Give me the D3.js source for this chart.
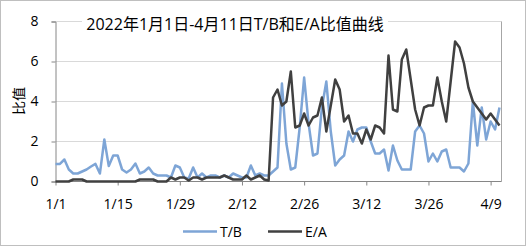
<!DOCTYPE html>
<html><head><meta charset="utf-8">
<script src="https://cdn.jsdelivr.net/npm/d3@7/dist/d3.min.js"></script>
<style>
body{margin:0;background:#fff;}
text{font-family:"Open Sans","Noto Sans CJK SC",sans-serif;fill:#000;}
</style></head>
<body><svg id="c" width="526" height="246"></svg>
<script>
const title = "2022年1月1日-4月11日T/B和E/A比值曲线";
const startDate = "2022-01-01";
const tickLabels = ["1/1","1/15","1/29","2/12","2/26","3/12","3/26","4/9"];
const yTicks = [0,2,4,6,8];
const seriesNames = ["T/B","E/A"];
const tb = [0.88,0.88,1.1,0.6,0.4,0.4,0.5,0.6,0.75,0.88,0.4,2.1,0.77,1.3,1.3,0.6,0.45,0.6,0.9,0.4,
0.5,0.7,0.4,0.3,0.3,0.3,0.2,0.8,0.7,0.2,0.15,0.7,0.2,0.4,0.2,0.3,0.3,0.2,0.3,0.2,
0.4,0.3,0.2,0.2,0.8,0.3,0.4,0.3,0.3,0.5,0.7,4.9,1.9,0.6,0.7,2.7,5.2,2.9,1.3,1.4,
3.7,5.0,2.5,0.8,1.1,1.3,2.5,2.0,2.6,2.7,2.7,2.0,1.4,1.4,1.6,0.55,1.8,1.05,0.6,0.6,
0.6,2.5,2.8,2.4,1.0,1.4,1.0,1.5,1.6,0.7,0.7,0.7,0.5,0.9,4.0,1.8,3.7,2.1,3.0,2.6,3.7];
const ea = [0,0,0,0,0.1,0.1,0.1,0,0,0,0,0,0,0,0,0,0,0,0,0.1,
0.1,0.1,0.1,0,0,0,0.2,0.1,0.2,0.2,0.05,0.2,0.2,0.1,0.2,0.2,0.2,0.2,0.3,0.2,
0.1,0.1,0.1,0.3,0.1,0.2,0.3,0.1,0.05,4.2,4.6,3.8,4.0,5.5,2.7,2.8,3.4,2.8,3.2,3.3,
4.2,2.5,3.8,5.1,4.6,3.0,3.3,2.4,2.4,1.9,2.6,2.1,2.8,2.7,2.4,6.3,3.6,3.5,6.1,6.6,
5.1,3.6,2.8,3.7,3.8,3.8,5.2,4.0,3.0,5.0,7.0,6.7,5.9,4.7,4.0,3.7,3.4,3.1,3.4,3.1,2.8];

const svg = d3.select("#c");
svg.append("rect").attr("x",0.5).attr("y",0.5).attr("width",525).attr("height",245)
  .attr("fill","#fff").attr("stroke","#BFBFBF");

const parse = d3.timeParse("%Y-%m-%d");
const t0 = parse(startDate);
const dates = tb.map((_,i)=>d3.timeDay.offset(t0,i));
const x = d3.scaleTime().domain([dates[0], dates[dates.length-1]]).range([55.5, 499.5]);
const y = d3.scaleLinear().domain([0,8]).range([181.5, 21.5]);

svg.append("g").selectAll("line").data(yTicks.filter(d=>d>0)).join("line")
  .attr("x1",55.5).attr("x2",501.5).attr("y1",d=>y(d)).attr("y2",d=>y(d))
  .attr("stroke","#D9D9D9").attr("stroke-width",1);
svg.append("line").attr("x1",501.5).attr("x2",501.5).attr("y1",y(8)).attr("y2",y(0))
  .attr("stroke","#A6A6A6");

const yAxis = d3.axisLeft(y).tickValues(yTicks).tickSize(4).tickPadding(13);
const gy = svg.append("g").attr("transform","translate(55.5,0)").call(yAxis);
gy.select(".domain").attr("stroke","#868686");
gy.selectAll(".tick line").attr("stroke","#868686");
gy.selectAll("text").attr("font-size",14).attr("fill","#000");

const tickDates = tickLabels.map(s=>{const [m,d]=s.split("/").map(Number);return new Date(2022,m-1,d);});
const xAxis = d3.axisBottom(x).tickValues(tickDates).tickSize(4).tickPadding(14)
  .tickFormat((d,i)=>tickLabels[i]);
const gx = svg.append("g").attr("transform","translate(0,181.5)").call(xAxis);
gx.select(".domain").attr("stroke","#868686").attr("d","M55.5,0H501.5");
gx.selectAll(".tick line").attr("stroke","#868686");
gx.selectAll("text").attr("font-size",14).attr("fill","#000");

const line = d3.line().x((d,i)=>x(dates[i])).y(d=>y(d));
svg.append("path").datum(tb).attr("d",line).attr("fill","none")
  .attr("stroke","#7EA5D6").attr("stroke-width",2.5).attr("stroke-linejoin","round");
svg.append("path").datum(ea).attr("d",line).attr("fill","none")
  .attr("stroke","#404040").attr("stroke-width",2.5).attr("stroke-linejoin","round");

const tg = svg.append("g");
tg.append("rect").attr("x",82).attr("y",12).attr("width",306).attr("height",24).attr("fill","#fff");
tg.append("text").attr("x",235).attr("y",30).attr("text-anchor","middle")
  .attr("font-size",16).text(title);

svg.append("text").attr("transform","translate(24,101) rotate(-90)")
  .attr("text-anchor","middle").attr("font-size",14).text("比值");

const leg = [{n:seriesNames[0],c:"#7EA5D6",x1:183,x2:217,tx:220},{n:seriesNames[1],c:"#404040",x1:268,x2:302,tx:305}];
const lg = svg.append("g");
leg.forEach(l=>{
  lg.append("line").attr("x1",l.x1).attr("x2",l.x2).attr("y1",231.5).attr("y2",231.5)
    .attr("stroke",l.c).attr("stroke-width",2.5);
  lg.append("text").attr("x",l.tx).attr("y",237).attr("font-size",14).text(l.n);
});
</script></body></html>
